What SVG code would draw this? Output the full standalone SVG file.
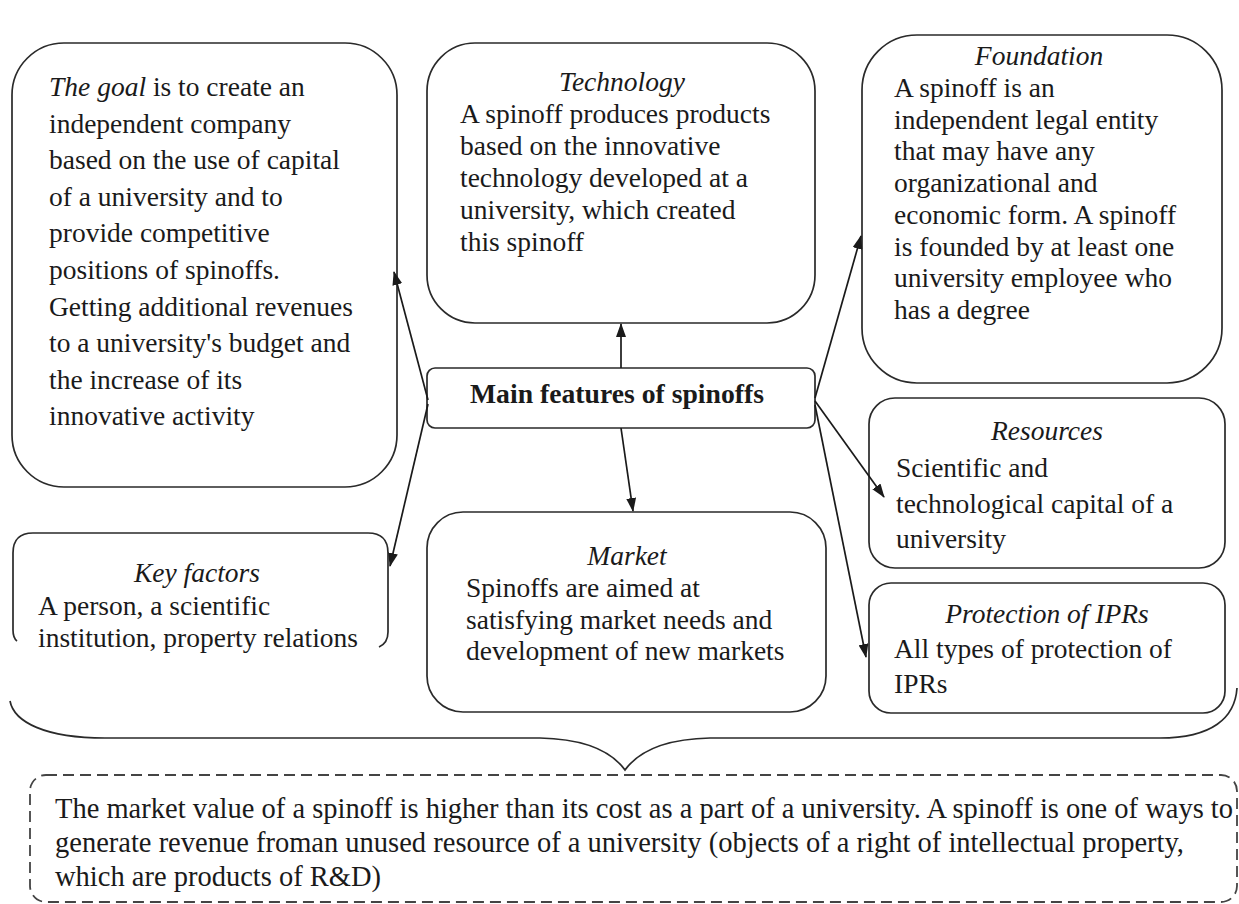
<svg xmlns="http://www.w3.org/2000/svg" width="1239" height="904" viewBox="0 0 1239 904">
<style>
.box{fill:#fff;stroke:#2a2a2a;stroke-width:1.7}
.t{font-family:"Liberation Serif","Times New Roman",serif;font-size:27.5px;fill:#1a1a1a}
.s{font-size:28.5px}
.i{font-style:italic}
.c{text-anchor:middle}
.b{font-weight:bold;font-size:27.7px}
.con{stroke:#1a1a1a;stroke-width:1.7;fill:none;marker-end:url(#ah)}
</style>
<defs>
<marker id="ah" markerWidth="14" markerHeight="10" refX="13" refY="5" orient="auto" markerUnits="userSpaceOnUse">
<path d="M0,0 L14,5 L0,10 z" fill="#1a1a1a"/>
</marker>
</defs>
<rect width="1239" height="904" fill="#fff"/>

<g id="goal">
<rect class="box" x="12" y="43" width="385" height="444" rx="52"/>
<text class="t" x="49" y="96"><tspan class="i">The goal</tspan> is to create an</text>
<text class="t" x="49" y="132.6">independent company</text>
<text class="t" x="49" y="169.2">based on the use of capital</text>
<text class="t" x="49" y="205.8">of a university and to</text>
<text class="t" x="49" y="242.4">provide competitive</text>
<text class="t" x="49" y="279">positions of spinoffs.</text>
<text class="t" x="49" y="315.6">Getting additional revenues</text>
<text class="t" x="49" y="352.2">to a university's budget and</text>
<text class="t" x="49" y="388.8">the increase of its</text>
<text class="t" x="49" y="425.4">innovative activity</text>
</g>

<g id="technology">
<rect class="box" x="427" y="43" width="388" height="280" rx="48"/>
<text class="t i c" x="622" y="91">Technology</text>
<text class="t" x="460" y="123">A spinoff produces products</text>
<text class="t" x="460" y="155">based on the innovative</text>
<text class="t" x="460" y="187">technology developed at a</text>
<text class="t" x="460" y="219">university, which created</text>
<text class="t" x="460" y="251">this spinoff</text>
</g>

<g id="foundation">
<rect class="box" x="862" y="35" width="360" height="348" rx="55"/>
<text class="t i c" x="1039" y="65">Foundation</text>
<text class="t" x="894" y="97">A spinoff is an</text>
<text class="t" x="894" y="128.7">independent legal entity</text>
<text class="t" x="894" y="160.4">that may have any</text>
<text class="t" x="894" y="192.1">organizational and</text>
<text class="t" x="894" y="223.8">economic form. A spinoff</text>
<text class="t" x="894" y="255.5">is founded by at least one</text>
<text class="t" x="894" y="287.2">university employee who</text>
<text class="t" x="894" y="318.9">has a degree</text>
</g>

<g id="main">
<rect class="box" x="427" y="368" width="388" height="60" rx="8"/>
<text class="t b c" x="617" y="403">Main features of spinoffs</text>
</g>

<g id="keyfactors">
<path class="box" d="M17,641 Q13,638 13,630 L13,553 Q13,533 33,533 L368,533 Q388,533 388,553 L388,632 Q388,643 379,647" fill="none"/>
<text class="t i c" x="197" y="582">Key factors</text>
<text class="t" x="38" y="615">A person, a scientific</text>
<text class="t" x="38" y="647">institution, property relations</text>
</g>

<g id="market">
<rect class="box" x="427" y="512" width="399" height="200" rx="36"/>
<text class="t i c" x="627" y="565">Market</text>
<text class="t" x="466" y="597">Spinoffs are aimed at</text>
<text class="t" x="466" y="628.5">satisfying market needs and</text>
<text class="t" x="466" y="660">development of new markets</text>
</g>

<g id="resources">
<rect class="box" x="869" y="398" width="356" height="170" rx="26"/>
<text class="t i c" x="1047" y="440">Resources</text>
<text class="t" x="896" y="477">Scientific and</text>
<text class="t" x="896" y="513">technological capital of a</text>
<text class="t" x="896" y="548">university</text>
</g>

<g id="protection">
<rect class="box" x="869" y="583" width="356" height="130" rx="22"/>
<text class="t i c" x="1047" y="623">Protection of IPRs</text>
<text class="t" x="894" y="658">All types of protection of</text>
<text class="t" x="894" y="693">IPRs</text>
</g>

<g id="connectors">
<line class="con" x1="428" y1="400" x2="394" y2="272"/>
<line class="con" x1="428" y1="404" x2="390" y2="566"/>
<line class="con" x1="621" y1="368" x2="621" y2="324"/>
<line class="con" x1="621" y1="428" x2="633" y2="511"/>
<line class="con" x1="815" y1="398" x2="861" y2="236"/>
<line class="con" x1="815" y1="401" x2="884" y2="497"/>
<line class="con" x1="815" y1="405" x2="866" y2="657"/>
</g>

<g id="brace">
<path d="M10,701 C14,722 45,738 105,738 L540,738 C585,739 612,752 625,770 C638,752 665,739 710,738 L1160,738 C1212,738 1235,718 1237,688" fill="none" stroke="#2a2a2a" stroke-width="1.7"/>
</g>

<g id="summary">
<rect x="30" y="775" width="1207" height="127" rx="16" fill="none" stroke="#444" stroke-width="1.8" stroke-dasharray="11,6"/>
<text class="t s" x="55" y="818">The market value of a spinoff is higher than its cost as a part of a university. A spinoff is one of ways to</text>
<text class="t s" x="55" y="852">generate revenue froman unused resource of a university (objects of a right of intellectual property,</text>
<text class="t s" x="55" y="886">which are products of R&amp;D)</text>
</g>
</svg>
